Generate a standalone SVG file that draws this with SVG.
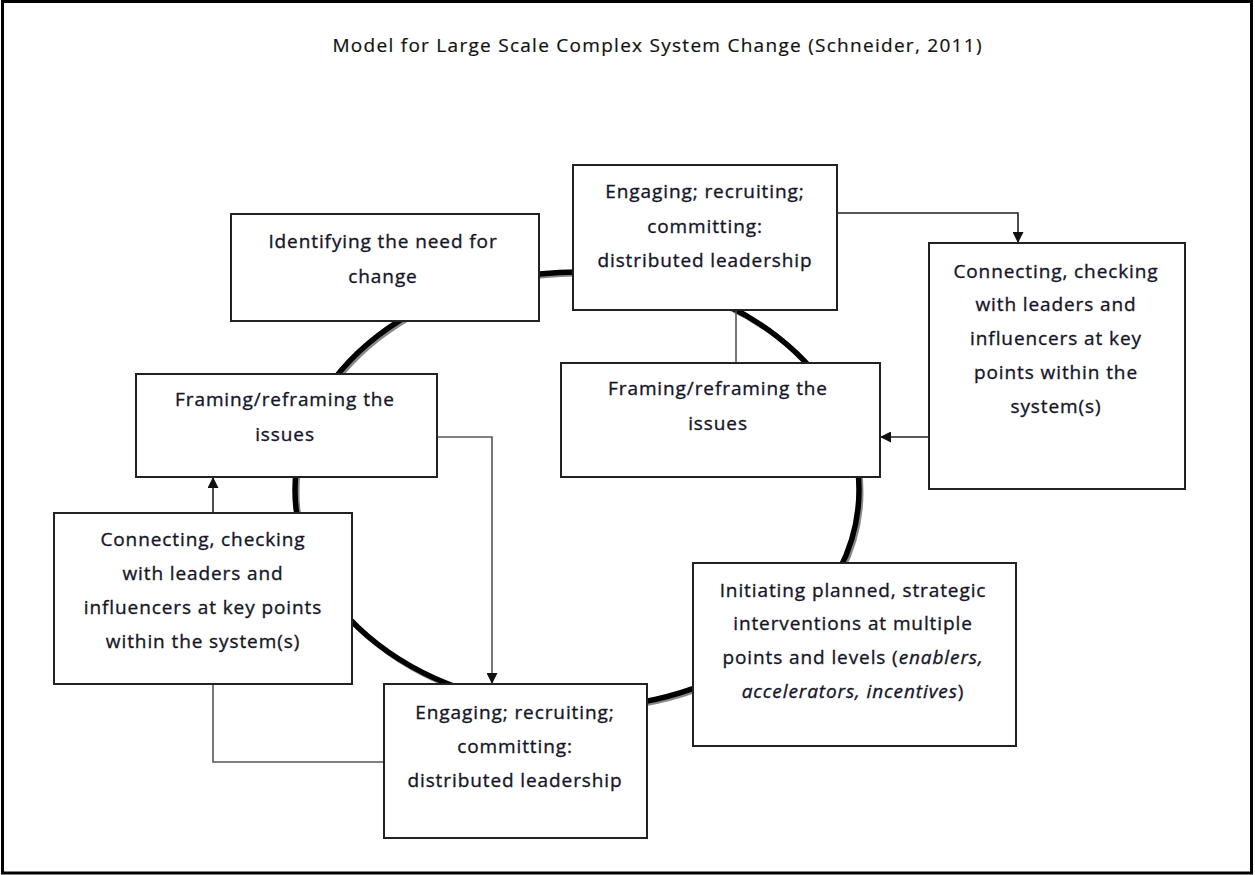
<svg xmlns="http://www.w3.org/2000/svg" width="1255" height="875" viewBox="0 0 1255 875">
<defs>
<style>
.box{fill:#fff;stroke:#222;stroke-width:2}
.t{font-family:"Open Sans","Noto Sans","Liberation Sans",sans-serif;font-size:19px;font-weight:500;letter-spacing:0.9px;fill:#15152a;stroke:#15152a;stroke-width:0.35px;text-anchor:middle}
.title{font-family:"Open Sans","Noto Sans","Liberation Sans",sans-serif;font-size:19px;fill:#111;stroke:#111;stroke-width:0.2px;text-anchor:middle}
.c{fill:none;stroke:#222;stroke-width:1.6}
.cg{fill:none;stroke:#555;stroke-width:1.6}
</style>
<marker id="ah" viewBox="0 0 10 10" refX="10" refY="5" markerWidth="11" markerHeight="11" markerUnits="userSpaceOnUse" orient="auto">
<path d="M0,0 L10,5 L0,10 Z" fill="#111"/>
</marker>
</defs>
<rect x="0" y="0" width="1255" height="875" fill="#fff"/>
<rect x="2.5" y="1.5" width="1249" height="871.5" fill="none" stroke="#000" stroke-width="3"/>
<text class="title" x="657" y="52" textLength="649" lengthAdjust="spacing">Model for Large Scale  Complex System Change (Schneider,  2011)</text>

<g id="cycle">
<ellipse cx="579" cy="492" rx="282" ry="218" fill="none" stroke="#888" stroke-width="5"/>
<ellipse cx="577" cy="490" rx="282" ry="218" fill="none" stroke="#000" stroke-width="5.5"/>
</g>

<g id="connectors">
<polyline class="c" points="837,213 1018,213 1018,243" marker-end="url(#ah)"/>
<polyline class="c" points="929,437 880,437" marker-end="url(#ah)"/>
<line class="cg" x1="736" y1="310" x2="736" y2="363"/>
<polyline class="cg" points="437,437 492,437 492,684" marker-end="url(#ah)"/>
<polyline class="c" points="213,513 213,477" marker-end="url(#ah)"/>
<polyline class="cg" points="213,684 213,762 384,762"/>
</g>

<g id="n-identify">
<rect class="box" x="231" y="214" width="308" height="107"/>
<text class="t" x="383" y="248">Identifying the need for</text>
<text class="t" x="383" y="283">change</text>
</g>

<g id="n-engage-top">
<rect class="box" x="573" y="165" width="264" height="145"/>
<text class="t" x="705" y="198">Engaging;  recruiting;</text>
<text class="t" x="705" y="233">committing:</text>
<text class="t" x="705" y="267">distributed leadership</text>
</g>

<g id="n-connect-right">
<rect class="box" x="929" y="243" width="256" height="246"/>
<text class="t" x="1056" y="278">Connecting, checking</text>
<text class="t" x="1056" y="311">with leaders and</text>
<text class="t" x="1056" y="345">influencers at key</text>
<text class="t" x="1056" y="379">points within the</text>
<text class="t" x="1056" y="413">system(s)</text>
</g>

<g id="n-frame-right">
<rect class="box" x="561" y="363" width="319" height="114"/>
<text class="t" x="718" y="395">Framing/reframing the</text>
<text class="t" x="718" y="430">issues</text>
</g>

<g id="n-frame-left">
<rect class="box" x="136" y="374" width="301" height="103"/>
<text class="t" x="285" y="406">Framing/reframing the</text>
<text class="t" x="285" y="441">issues</text>
</g>

<g id="n-connect-left">
<rect class="box" x="54" y="513" width="298" height="171"/>
<text class="t" x="203" y="546">Connecting, checking</text>
<text class="t" x="203" y="580">with leaders and</text>
<text class="t" x="203" y="614">influencers at key points</text>
<text class="t" x="203" y="648">within the system(s)</text>
</g>

<g id="n-initiate">
<rect class="box" x="693" y="563" width="323" height="183"/>
<text class="t" x="853" y="597">Initiating planned, strategic</text>
<text class="t" x="853" y="630">interventions at multiple</text>
<text class="t" x="853" y="664">points and levels (<tspan font-style="italic">enablers,</tspan></text>
<text class="t" x="853" y="698"><tspan font-style="italic">accelerators, incentives</tspan>)</text>
</g>

<g id="n-engage-bottom">
<rect class="box" x="384" y="684" width="263" height="154"/>
<text class="t" x="515" y="719">Engaging;  recruiting;</text>
<text class="t" x="515" y="753">committing:</text>
<text class="t" x="515" y="787">distributed leadership</text>
</g>
</svg>
